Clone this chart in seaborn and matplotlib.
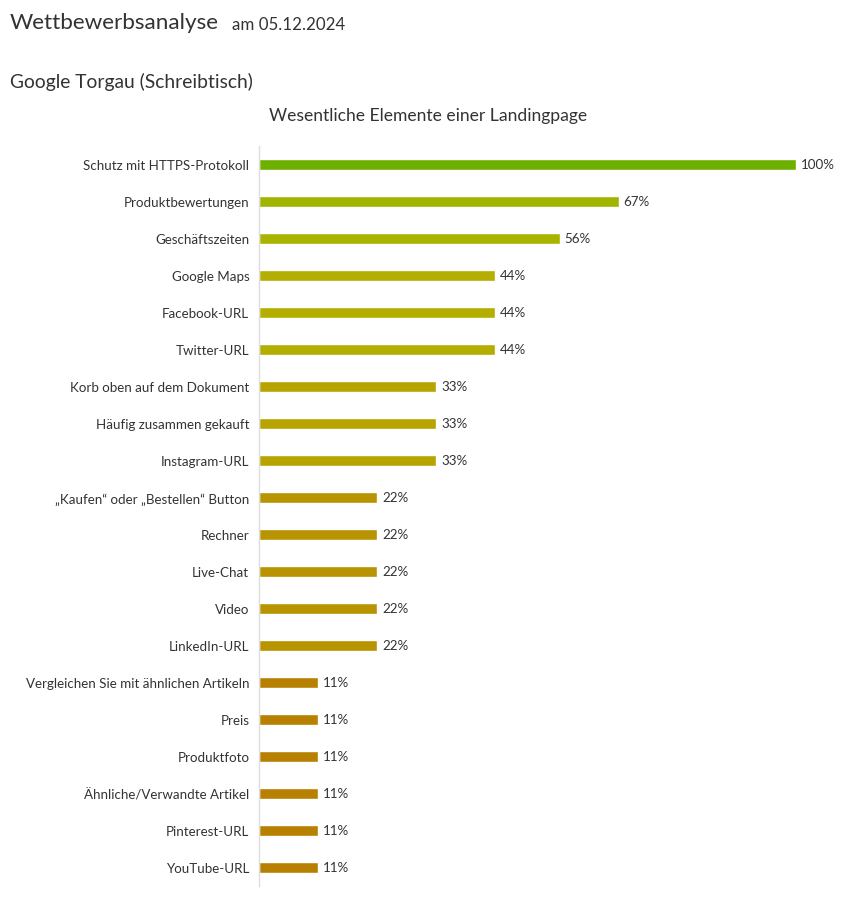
import matplotlib
matplotlib.use("Agg")
import matplotlib.pyplot as plt
import seaborn as sns
import pandas as pd

elements = [
    "Schutz mit HTTPS-Protokoll", "Produktbewertungen", "Geschäftszeiten",
    "Google Maps", "Facebook-URL", "Twitter-URL", "Korb oben auf dem Dokument",
    "Häufig zusammen gekauft", "Instagram-URL", "„Kaufen“ oder „Bestellen“ Button",
    "Rechner", "Live-Chat", "Video", "LinkedIn-URL",
    "Vergleichen Sie mit ähnlichen Artikeln", "Preis", "Produktfoto",
    "Ähnliche/Verwandte Artikel", "Pinterest-URL", "YouTube-URL",
]
shares = [100, 67, 56, 44, 44, 44, 33, 33, 33, 22, 22, 22, 22, 22, 11, 11, 11, 11, 11, 11]
level_colors = {
    100: "#6db000", 67: "#a0b400", 56: "#a8b400", 44: "#b4ae00",
    33: "#b8a400", 22: "#b89400", 11: "#b88000",
}

df = pd.DataFrame({"element": elements, "share": shares})

sns.set_style("white")
plt.rcParams["font.family"] = ["Lato", "DejaVu Sans"]
text_color = "#333333"

fig = plt.figure(figsize=(8.53, 9.04), dpi=100)
ax = fig.add_axes([259 / 853, 17 / 904, 537 / 853, 740 / 904])

sns.barplot(data=df, x="share", y="element", hue="element",
            palette=[level_colors[s] for s in shares], legend=False,
            width=0.28, saturation=1, ax=ax)

for i, v in enumerate(shares):
    ax.text(v + 0.9, i, f"{v}%", va="center", ha="left", fontsize=9.6, color=text_color)

ax.set_xlim(0, 100)
ax.set_ylim(19.5, -0.5)
ax.set_xlabel("")
ax.set_ylabel("")
ax.set_xticks([])
ax.tick_params(axis="y", length=0, pad=7, labelsize=9.6, labelcolor=text_color)
for side in ["top", "right", "bottom"]:
    ax.spines[side].set_visible(False)
ax.spines["left"].set_color("#dddddd")
ax.spines["left"].set_linewidth(1)

fig.text(10 / 853, 1 - 23 / 904, "Wettbewerbsanalyse", fontsize=16.2, color=text_color, va="center")
fig.text(232 / 853, 1 - 25 / 904, "am 05.12.2024", fontsize=12.2, color=text_color, va="center")
fig.text(10 / 853, 1 - 82 / 904, "Google Torgau (Schreibtisch)", fontsize=13.9, color=text_color, va="center")
fig.text(428 / 853, 1 - 116 / 904, "Wesentliche Elemente einer Landingpage", fontsize=12.6,
         color=text_color, va="center", ha="center")

fig.savefig("out.png", dpi=100)
